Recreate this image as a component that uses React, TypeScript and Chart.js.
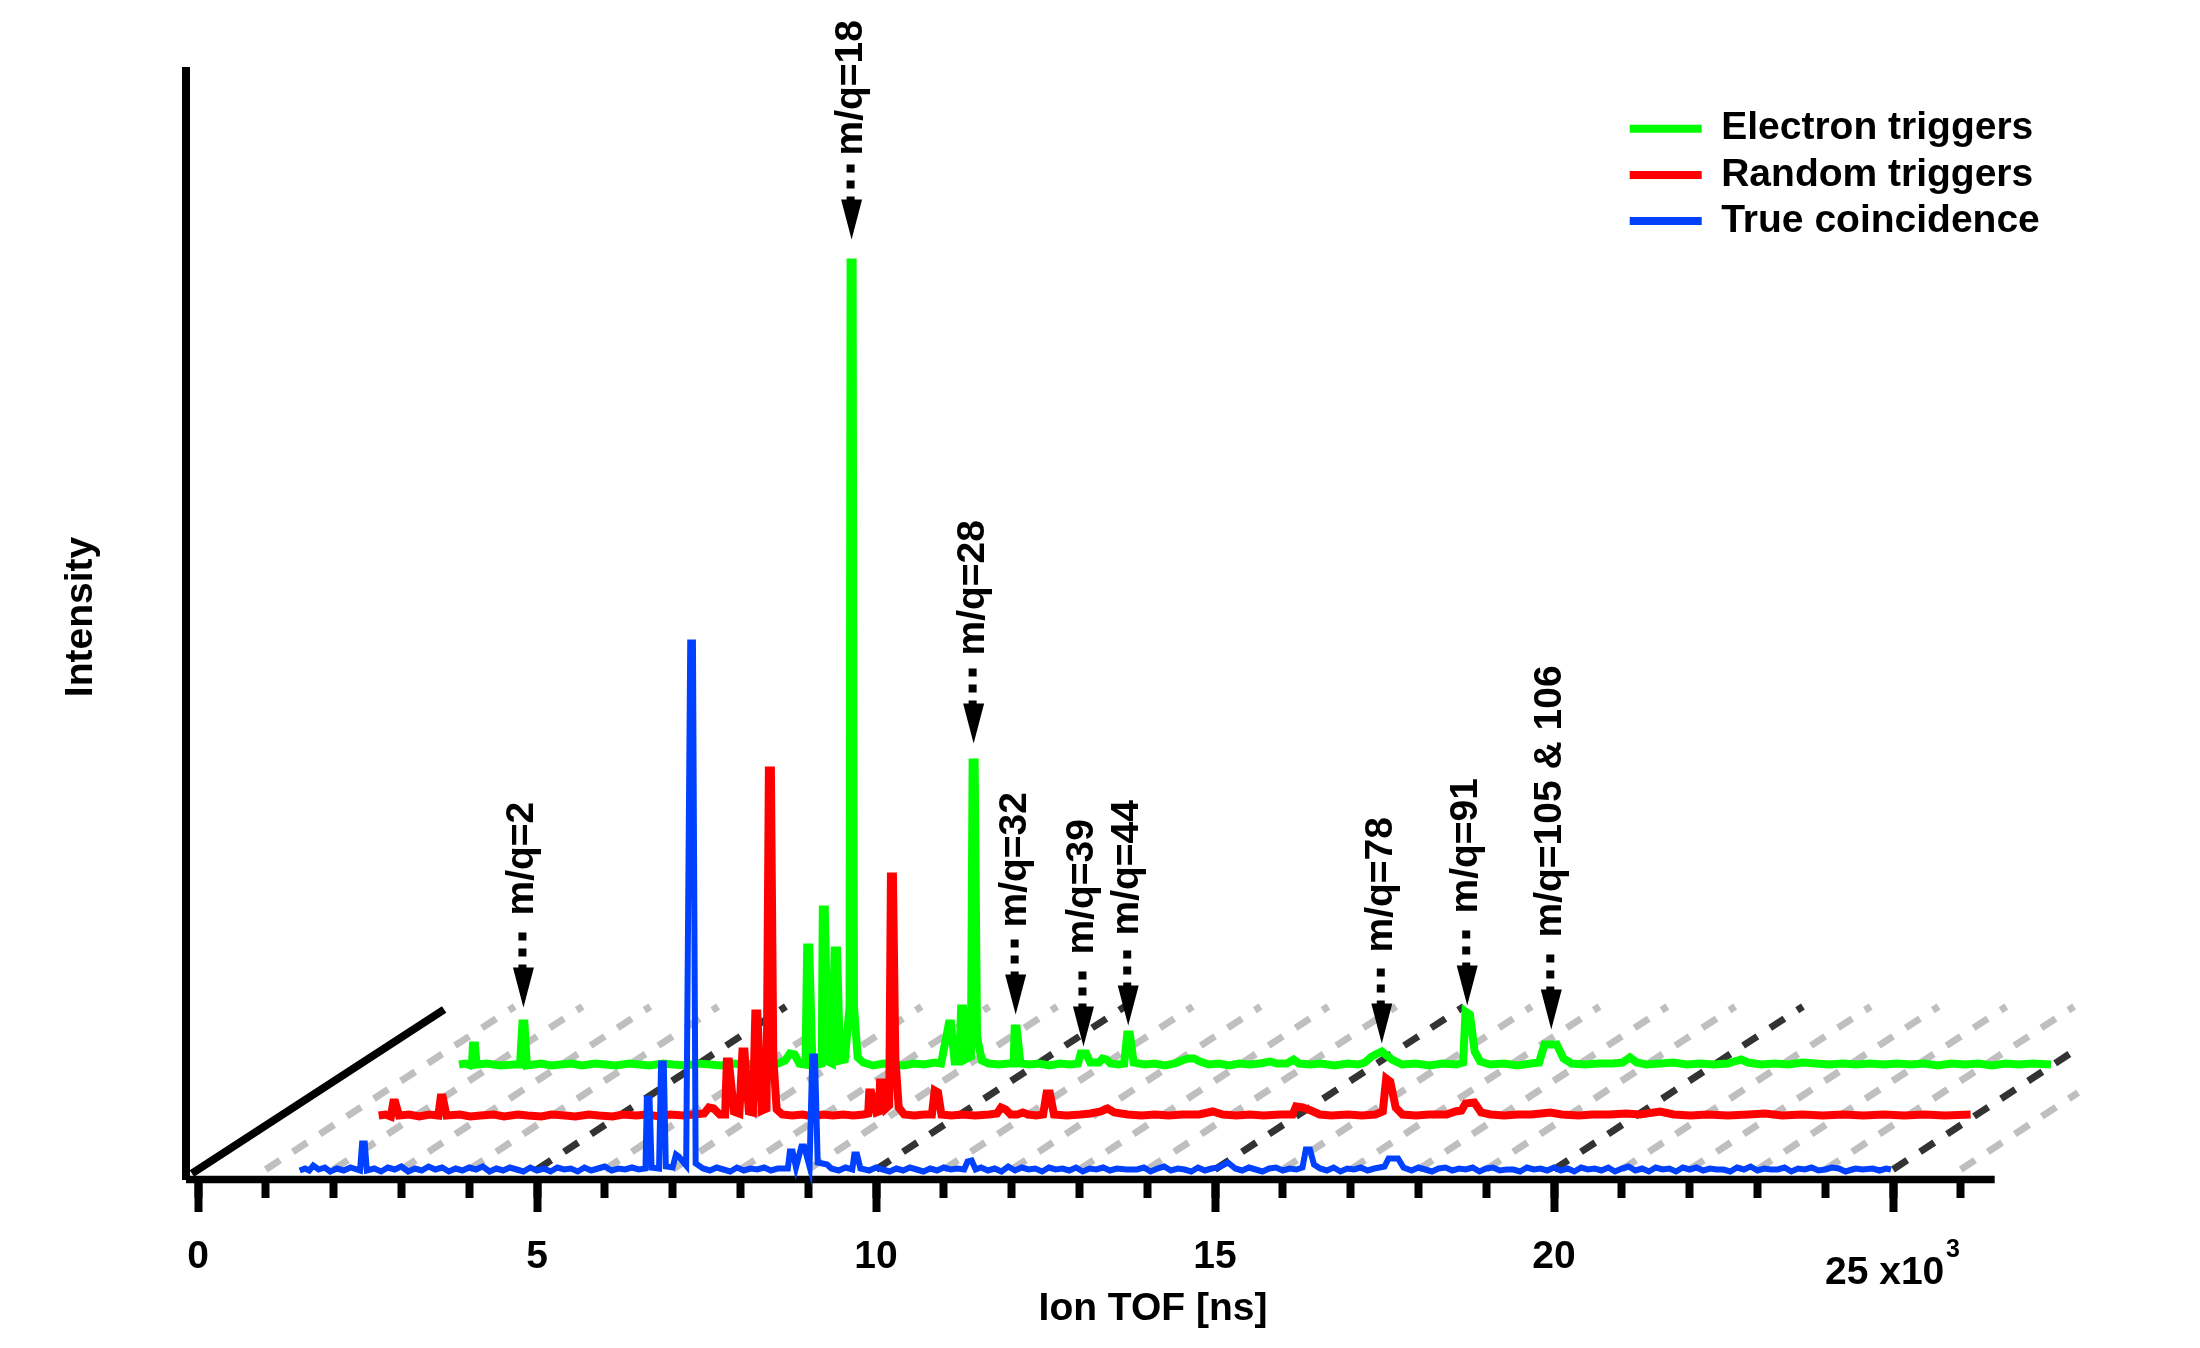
import { useEffect, useRef } from "react";
import { Chart, registerables } from "chart.js";

Chart.register(...registerables);

type Pt = [number, number];

// [ion TOF x10^3 ns, intensity]
const electronTrace: Pt[] = [
  [1.49,2],[1.58,3],[1.66,1],[1.68,2],[1.695,21],[1.725,21],[1.75,2],[1.9,3],[2.1,1],[2.3,2],[2.39,2],[2.425,43],[2.455,43],[2.49,1],
  [2.7,3],[2.85,1],[3.0,2],[3.15,3],[3.3,1],[3.5,3],[3.65,2],[3.8,1],[4.0,3],[4.15,2],[4.3,1],[4.5,3],[4.65,2],[4.85,1],[5.0,3],[5.2,2],
  [5.35,1],[5.55,3],[5.7,2],[5.9,3],[6.05,1],[6.2,3],[6.3,6],[6.37,13],[6.44,12],[6.51,3],[6.6,2],[6.625,119],[6.655,119],[6.7,7],[6.78,2],
  [6.84,3],[6.855,157],[6.885,157],[6.93,5],[6.99,3],[7.03,116],[7.065,116],[7.11,6],[7.18,7],[7.25,60],[7.265,804],[7.295,804],[7.315,60],
  [7.37,9],[7.45,4],[7.6,1],[7.75,3],[7.9,2],[8.05,1],[8.2,3],[8.35,2],[8.5,4],[8.6,3],[8.715,43],[8.745,43],[8.8,5],[8.87,5],[8.895,58],[8.925,58],
  [8.98,8],[9.04,10],[9.065,304],[9.095,304],[9.13,30],[9.2,6],[9.3,3],[9.45,2],[9.6,3],[9.67,3],[9.685,38],[9.715,38],[9.77,3],[9.9,2],
  [10.05,3],[10.2,1],[10.35,3],[10.5,2],[10.62,3],[10.66,13],[10.74,13],[10.8,4],[10.93,4],[10.98,8],[11.04,7],[11.1,3],[11.22,2],[11.3,3],[11.345,32],[11.385,32],[11.44,4],
  [11.6,2],[11.75,3],[11.9,1],[12.05,3],[12.15,6],[12.25,8],[12.33,8],[12.42,5],[12.55,2],[12.7,3],[12.85,1],[13.0,3],[13.15,2],[13.3,3],
  [13.45,5],[13.55,3],[13.7,3],[13.8,7],[13.88,3],[14.05,2],[14.2,3],[14.4,1],[14.6,3],[14.75,2],[14.85,4],[14.95,10],[15.1,15],[15.25,7],[15.4,2],
  [15.6,3],[15.8,1],[16.0,3],[16.2,2],[16.3,4],[16.335,55],[16.4,52],[16.47,15],[16.55,5],[16.7,2],[16.9,3],[17.1,1],[17.3,3],[17.42,4],
  [17.5,22],[17.68,22],[17.78,8],[17.9,3],[18.1,2],[18.3,3],[18.5,3],[18.65,4],[18.76,9],[18.86,4],[19.0,2],[19.2,3],[19.4,4],[19.6,2],[19.8,3],
  [20.0,2],[20.2,3],[20.4,7],[20.5,4],[20.7,2],[20.9,3],[21.1,2],[21.3,4],[21.5,3],[21.7,2],[21.9,3],[22.1,2],[22.3,3],[22.5,2],[22.7,3],
  [22.9,2],[23.1,3],[23.3,1],[23.5,3],[23.7,2],[23.9,3],[24.1,1],[24.3,3],[24.5,2],[24.7,3],[24.97,2],
];

const randomTrace: Pt[] = [
  [1.5,2],[1.6,3],[1.68,1],[1.715,15],[1.745,15],[1.8,2],[1.95,3],[2.1,1],[2.25,3],[2.38,2],[2.415,20],[2.445,20],[2.5,2],[2.7,3],[2.85,1],
  [3.0,2],[3.2,3],[3.35,1],[3.55,3],[3.7,2],[3.9,1],[4.05,3],[4.25,2],[4.4,1],[4.6,3],[4.75,2],[4.95,1],[5.1,3],[5.3,2],[5.45,3],[5.65,1],
  [5.8,3],[6.0,2],[6.15,3],[6.3,4],[6.37,10],[6.44,9],[6.53,3],[6.61,3],[6.635,56],[6.665,56],[6.74,6],[6.82,4],[6.865,66],[6.895,66],
  [6.96,6],[7.02,5],[7.055,104],[7.085,104],[7.15,7],[7.22,9],[7.255,347],[7.285,347],[7.32,60],[7.37,8],[7.45,3],[7.6,2],[7.75,3],[7.9,1],
  [8.05,3],[8.2,2],[8.35,3],[8.5,2],[8.65,3],[8.72,4],[8.735,25],[8.765,25],[8.84,5],[8.88,6],[8.895,35],[8.925,35],[8.98,9],[9.03,12],
  [9.055,241],[9.085,241],[9.12,60],[9.17,10],[9.25,3],[9.4,2],[9.55,3],[9.66,3],[9.7,27],[9.75,25],[9.8,3],[9.95,2],[10.1,3],[10.3,2],
  [10.5,3],[10.62,4],[10.68,10],[10.75,8],[10.82,3],[10.92,3],[11.0,5],[11.08,3],[11.2,2],[11.3,3],[11.35,24],[11.4,24],[11.46,3],[11.65,2],
  [11.85,3],[12.0,4],[12.15,6],[12.25,9],[12.35,5],[12.55,3],[12.75,2],[12.95,3],[13.15,2],[13.35,3],[13.6,3],[13.8,6],[13.95,3],[14.15,2],
  [14.35,3],[14.55,2],[14.8,3],[14.98,3],[15.03,11],[15.13,10],[15.25,7],[15.38,3],[15.55,2],[15.8,3],[16.0,2],[16.2,3],[16.31,6],[16.36,39],[16.42,36],
  [16.5,10],[16.6,3],[16.8,2],[17.0,3],[17.25,3],[17.38,6],[17.47,7],[17.53,14],[17.66,15],[17.76,5],[17.9,3],[18.1,2],[18.3,3],[18.5,3],
  [18.78,5],[18.95,3],[19.2,2],[19.4,3],[19.65,3],[19.9,4],[20.1,3],[20.4,6],[20.6,3],[20.85,2],[21.1,3],[21.4,2],[21.7,3],[21.95,4],[22.2,2],
  [22.5,3],[22.8,2],[23.1,3],[23.4,2],[23.7,3],[24.0,2],[24.3,3],[24.6,2],[24.98,3],
];

const trueTrace: Pt[] = [
  [1.5,1],[1.58,3],[1.64,1],[1.7,6],[1.78,2],[1.87,4],[1.95,0],[2.05,3],[2.15,1],[2.25,4],[2.39,1],[2.42,28],[2.46,28],[2.49,1],[2.6,3],[2.7,0],
  [2.8,4],[2.9,2],[3.0,5],[3.1,0],[3.2,3],[3.3,1],[3.4,5],[3.5,2],[3.6,4],[3.7,0],[3.8,3],[3.9,1],[4.0,4],[4.1,2],[4.2,5],[4.3,0],[4.4,3],
  [4.5,1],[4.6,4],[4.7,2],[4.8,0],[4.9,4],[5.0,1],[5.1,3],[5.2,0],[5.3,4],[5.4,2],[5.5,3],[5.6,0],[5.7,4],[5.8,1],[5.9,3],[6.0,5],[6.1,1],
  [6.2,3],[6.3,2],[6.4,4],[6.5,2],[6.6,3],[6.62,73],[6.66,73],[6.69,4],[6.8,3],[6.83,108],[6.87,108],[6.9,5],[7.0,4],[7.05,17],[7.09,15],
  [7.2,6],[7.26,529],[7.3,529],[7.34,8],[7.45,3],[7.55,1],[7.65,4],[7.75,2],[7.85,0],[7.95,4],[8.05,1],[8.15,3],[8.25,2],[8.35,4],
  [8.45,1],[8.55,3],[8.7,3],[8.73,20],[8.77,20],[8.82,4],[8.9,25],[8.94,25],[9.02,5],[9.06,115],[9.1,115],[9.14,9],[9.28,7],[9.34,3],[9.45,1],
  [9.55,4],[9.65,2],[9.68,17],[9.72,17],[9.77,3],[9.9,1],[10.0,4],[10.1,2],[10.2,0],[10.3,3],[10.4,1],[10.5,4],[10.6,2],[10.7,0],[10.8,3],
  [10.9,1],[11.0,4],[11.1,2],[11.2,3],[11.3,2],[11.35,10],[11.41,11],[11.47,2],[11.55,4],[11.65,1],[11.75,3],[11.85,0],[11.95,5],[12.05,1],[12.15,4],
  [12.25,2],[12.35,3],[12.45,0],[12.55,4],[12.65,2],[12.75,3],[12.85,1],[12.95,4],[13.05,0],[13.15,3],[13.25,2],[13.35,4],[13.45,1],[13.55,3],
  [13.7,2],[13.85,2],[13.95,4],[14.05,0],[14.15,3],[14.25,5],[14.35,1],[14.45,3],[14.55,2],[14.65,0],[14.75,4],[14.85,1],[14.95,3],[15.05,4],
  [15.19,9],[15.3,3],[15.4,1],[15.5,4],[15.6,2],[15.7,0],[15.8,3],[15.9,4],[16.0,1],[16.1,3],[16.2,2],[16.29,4],[16.34,22],[16.4,22],[16.46,7],[16.55,3],
  [16.65,1],[16.75,4],[16.85,0],[16.95,3],[17.05,2],[17.15,4],[17.25,1],[17.35,3],[17.5,5],[17.56,13],[17.7,13],[17.78,4],[17.9,1],[18.0,4],
  [18.1,2],[18.2,0],[18.3,3],[18.4,4],[18.5,1],[18.6,3],[18.7,2],[18.8,4],[18.9,0],[19.0,3],[19.1,4],[19.2,1],[19.3,2],[19.4,2],[19.5,0],
  [19.6,4],[19.7,2],[19.8,3],[19.9,1],[20.0,4],[20.1,1],[20.2,3],[20.3,0],[20.4,4],[20.5,2],[20.6,3],[20.7,1],[20.8,4],[20.9,0],[21.0,3],
  [21.1,5],[21.2,1],[21.3,3],[21.4,0],[21.5,4],[21.6,2],[21.7,3],[21.8,0],[21.9,4],[22.0,2],[22.1,4],[22.2,1],[22.3,3],[22.4,2],[22.5,2],
  [22.6,0],[22.7,4],[22.8,2],[22.9,5],[23.0,1],[23.1,3],[23.2,2],[23.3,2],[23.4,4],[23.5,0],[23.6,3],[23.7,2],[23.8,4],[23.9,1],[24.0,2],
  [24.1,4],[24.2,3],[24.3,0],[24.4,2],[24.45,3],[24.55,2],[24.7,3],[24.8,1],[24.9,3],[24.97,2],
];

// how far each trace sits behind the front plane: [x shift, y shift]
const electronDepth: Pt = [2.36, 113];
const randomDepth: Pt = [1.165, 62];
const trueDepth: Pt = [0, 8];

const peakLabels = ["m/q=2", "m/q=18", "m/q=28", "m/q=32", "m/q=39", "m/q=44", "m/q=78", "m/q=91", "m/q=105 & 106"];
const peakTof = [2.44, 7.28, 9.08, 9.7, 10.7, 11.36, 15.1, 16.36, 17.6];
const peakArrowTip = [59, 827, 323, 52, 20, 41, 23, 61, 37];
const peakLabelGap = [92, 84, 88, 87, 92, 90, 91, 92, 92];

const gridTicks = [1, 2, 3, 4, 5, 6, 7, 8, 9, 10, 11, 12, 13, 14, 15, 16, 17, 18, 19, 20, 21, 22, 23, 24, 25, 26];
const legendNames = ["Electron triggers", "Random triggers", "True coincidence"];

const FONT = '"Liberation Sans"';
const TEXT_SIZE = 39;
const AXIS_MIN = -0.177;
const AXIS_END = 26.5;
const GRID_TOP = 173;
const GRID_RIGHT = 27.73;
const GRID_SLOPE = 44.4; // y units per x unit along the depth direction

const shifted = (trace: Pt[], depth: Pt) => trace.map(([x, y]) => ({ x: x + depth[0], y: y + depth[1] }));

function gridLine(t: number) {
  const top = Math.min(GRID_TOP, 10 + (GRID_RIGHT - t) * GRID_SLOPE);
  const major = t % 5 === 0;
  return {
    label: "grid",
    data: [{ x: t, y: 10 }, { x: t + (top - 10) / GRID_SLOPE, y: top }],
    borderColor: major ? "#333333" : "#bfbfbf",
    borderWidth: 7,
    borderDash: [17, 15.3],
    borderCapStyle: "butt" as const,
    pointRadius: 0,
    clip: false as const,
    order: major ? 3 : 4,
  };
}

const overlayPlugin = {
  id: "overlay",
  afterLayout(chart: any) {
    // legend sits partly outside the plot area
    const legend = chart.legend;
    const w = legend.right - legend.left;
    const h = legend.bottom - legend.top;
    legend.left = 1622.5;
    legend.right = 1622.5 + w;
    legend.top = 102;
    legend.bottom = 102 + h;
  },
  afterDatasetsDraw(chart: any) {
    const { ctx, scales } = chart;
    ctx.save();
    ctx.fillStyle = "#000000";
    ctx.strokeStyle = "#000000";
    peakLabels.forEach((label, i) => {
      const x = scales.x.getPixelForValue(peakTof[i] + electronDepth[0]);
      const tip = scales.y.getPixelForValue(peakArrowTip[i] + electronDepth[1]);
      ctx.beginPath();
      ctx.moveTo(x, tip);
      ctx.lineTo(x - 10.5, tip - 40);
      ctx.lineTo(x + 10.5, tip - 40);
      ctx.closePath();
      ctx.fill();
      ctx.save();
      ctx.lineWidth = 8;
      ctx.setLineDash([8, 8]);
      ctx.beginPath();
      ctx.moveTo(x - 1, tip - 75);
      ctx.lineTo(x - 1, tip - 38);
      ctx.stroke();
      ctx.restore();
      ctx.save();
      ctx.translate(x + 10, tip - peakLabelGap[i]);
      ctx.rotate(-Math.PI / 2);
      ctx.font = `bold ${TEXT_SIZE}px ${FONT}`;
      ctx.textAlign = "left";
      ctx.textBaseline = "alphabetic";
      ctx.fillText(label, 0, 0);
      ctx.restore();
    });
    ctx.font = `bold ${TEXT_SIZE}px ${FONT}`;
    ctx.textBaseline = "middle";
    ctx.textAlign = "center";
    ctx.fillText("Ion TOF [ns]", 1153, 1309);
    ctx.textAlign = "left";
    ctx.fillText("25 x10", 1825, 1273);
    ctx.font = `bold 25px ${FONT}`;
    ctx.fillText("3", 1946, 1250);
    ctx.save();
    ctx.translate(92, 617);
    ctx.rotate(-Math.PI / 2);
    ctx.font = `bold ${TEXT_SIZE}px ${FONT}`;
    ctx.textAlign = "center";
    ctx.textBaseline = "alphabetic";
    ctx.fillText("Intensity", 0, 0);
    ctx.restore();
    ctx.restore();
  },
};

export default function App() {
  const chartRef = useRef<HTMLCanvasElement>(null);

  useEffect(() => {
    if (!chartRef.current) return;
    const trace = (label: string, data: any[], color: string, width: number, order: number) => ({
      label,
      data,
      borderColor: color,
      backgroundColor: color,
      borderWidth: width,
      borderJoinStyle: "miter" as const,
      pointRadius: 0,
      clip: false as const,
      order,
    });
    // the scale runs on past the drawn axis so the rear traces are not cut off
    const keepToAxis = (scale: any) => {
      scale.ticks = scale.ticks.filter((t: any) => t.value <= AXIS_END);
    };

    const chart = new Chart(chartRef.current, {
      type: "line",
      data: {
        datasets: [
          trace(legendNames[0], shifted(electronTrace, electronDepth), "#00ff00", 8, 2),
          trace(legendNames[1], shifted(randomTrace, randomDepth), "#ff0000", 8, 1),
          trace(legendNames[2], shifted(trueTrace, trueDepth), "#0040ff", 6, 0),
          {
            label: "x axis",
            data: [{ x: AXIS_MIN, y: 0 }, { x: AXIS_END, y: 0 }],
            borderColor: "#000000",
            borderWidth: 7.5,
            pointRadius: 0,
            clip: false,
            order: 0,
          },
          {
            label: "depth axis",
            data: [{ x: -0.09, y: 6 }, { x: 3.63, y: 170 }],
            borderColor: "#000000",
            borderWidth: 8,
            pointRadius: 0,
            clip: false,
            order: 0,
          },
          ...gridTicks.map(gridLine),
        ] as any,
      },
      options: {
        animation: false,
        responsive: false,
        devicePixelRatio: 1,
        layout: { padding: { left: 186, top: 71, right: 103.6, bottom: 168.5 } },
        plugins: {
          title: { display: false },
          tooltip: { enabled: false },
          legend: {
            position: "chartArea",
            align: "start",
            labels: {
              color: "#000000",
              font: { family: FONT, size: TEXT_SIZE, weight: "bold" },
              boxWidth: 72,
              boxHeight: 8,
              padding: 7.2,
              generateLabels: (c: any) =>
                Chart.defaults.plugins.legend.labels
                  .generateLabels(c)
                  .filter((item: any) => legendNames.includes(item.text))
                  .sort((a: any, b: any) => a.datasetIndex - b.datasetIndex)
                  .map((item: any) => ({ ...item, lineWidth: 0 })),
            },
          },
        },
        scales: {
          x: {
            type: "linear",
            position: { y: 0 },
            min: AXIS_MIN,
            max: 28,
            afterBuildTicks: keepToAxis,
            border: { display: false },
            grid: { drawOnChartArea: false, tickLength: 32, tickWidth: 8, tickColor: "#000000" },
            ticks: {
              stepSize: 5,
              includeBounds: false,
              autoSkip: false,
              maxRotation: 0,
              padding: 22,
              color: "#000000",
              font: { family: FONT, size: TEXT_SIZE, weight: "bold" },
              callback: (v: any) => (v === 25 ? "" : String(v)),
            },
          },
          xMinor: {
            type: "linear",
            axis: "x",
            position: { y: 0 },
            min: AXIS_MIN,
            max: 28,
            afterBuildTicks: keepToAxis,
            border: { display: false },
            grid: { drawOnChartArea: false, tickLength: 18, tickWidth: 8, tickColor: "#000000" },
            ticks: { stepSize: 1, includeBounds: false, autoSkip: false, maxRotation: 0, callback: () => "" },
          },
          y: {
            type: "linear",
            min: 0,
            max: 1108.5,
            border: { display: true, color: "#000000", width: 8 },
            grid: { display: false, drawTicks: false },
            ticks: { display: false },
          },
        },
      } as any,
      plugins: [overlayPlugin],
    });

    return () => chart.destroy();
  }, []);

  return (
    <div style={{ position: "absolute", left: 0, top: 0, width: 2200, height: 1348, background: "#ffffff" }}>
      <canvas ref={chartRef} width={2200} height={1348} style={{ display: "block" }} />
    </div>
  );
}
